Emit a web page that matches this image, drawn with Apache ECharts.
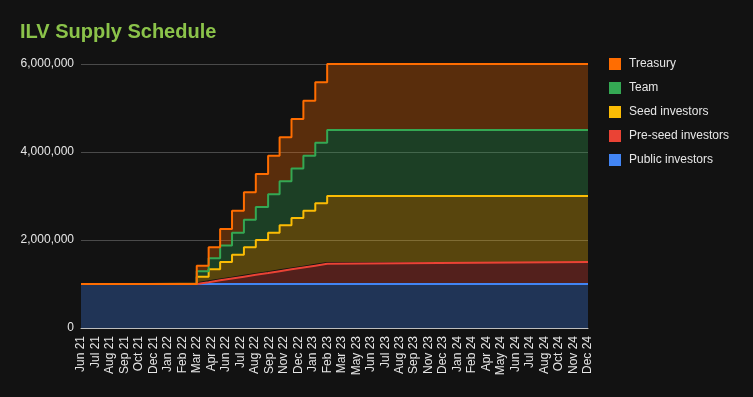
<!DOCTYPE html>
<html>
<head>
<meta charset="utf-8">
<script src="https://cdn.jsdelivr.net/npm/echarts@6/dist/echarts.min.js"></script>
<style>
  html, body { margin: 0; padding: 0; background: #121212; }
  #chart { width: 753px; height: 397px; }
</style>
</head>
<body>
<div id="chart"></div>
<script>
const axisStart = '2021-06-01';
const axisEnd = '2024-12-01';
const tickLabels = ['Jun 21', 'Jul 21', 'Aug 21', 'Sep 21', 'Oct 21', 'Dec 21', 'Jan 22', 'Feb 22', 'Mar 22',
  'Apr 22', 'Jun 22', 'Jul 22', 'Aug 22', 'Sep 22', 'Nov 22', 'Dec 22', 'Jan 23', 'Feb 23', 'Mar 23',
  'May 23', 'Jun 23', 'Jul 23', 'Aug 23', 'Sep 23', 'Nov 23', 'Dec 23', 'Jan 24', 'Feb 24', 'Apr 24',
  'May 24', 'Jun 24', 'Jul 24', 'Aug 24', 'Oct 24', 'Nov 24', 'Dec 24'];

// start, monthly unlocks, end
const dates = ['2021-06-01', '2022-03-20', '2022-04-19', '2022-05-18', '2022-06-17', '2022-07-17', '2022-08-16',
  '2022-09-16', '2022-10-15', '2022-11-14', '2022-12-14', '2023-01-13', '2023-02-12', '2024-12-01'];

const publicInvestors = [1000000, 1000000, 1000000, 1000000, 1000000, 1000000, 1000000, 1000000, 1000000, 1000000, 1000000, 1000000, 1000000, 1000000];
const preSeedInvestors = [0, 41667, 83333, 125000, 166667, 208333, 250000, 291667, 333333, 375000, 416667, 458333, 500000, 500000];
const seedInvestors = [0, 125000, 250000, 375000, 500000, 625000, 750000, 875000, 1000000, 1125000, 1250000, 1375000, 1500000, 1500000];
const team = [0, 125000, 250000, 375000, 500000, 625000, 750000, 875000, 1000000, 1125000, 1250000, 1375000, 1500000, 1500000];
const treasury = [0, 125000, 250000, 375000, 500000, 625000, 750000, 875000, 1000000, 1125000, 1250000, 1375000, 1500000, 1500000];

const legendOrder = ['Treasury', 'Team', 'Seed investors', 'Pre-seed investors', 'Public investors'];

const font = 'Liberation Sans, Arial, sans-serif';
const textColor = '#e6e6e6';

const chart = echarts.init(document.getElementById('chart'));

function makeSeries(name, values, color) {
  return {
    name: name,
    type: 'line',
    stack: 'supply',
    step: 'end',
    showSymbol: false,
    xAxisIndex: 0,
    data: dates.map((d, i) => [d, values[i]]),
    itemStyle: { color: color },
    lineStyle: { color: color, width: 2 },
    areaStyle: { color: color, opacity: 0.3 },
  };
}

chart.setOption({
  backgroundColor: '#121212',
  animation: false,
  textStyle: { fontFamily: font },
  title: {
    text: 'ILV Supply Schedule',
    left: 20,
    top: 22,
    padding: 0,
    textStyle: { color: '#8bc34a', fontSize: 20, fontWeight: 'bold', fontFamily: font },
  },
  legend: {
    data: legendOrder,
    orient: 'vertical',
    left: 609,
    top: 58,
    padding: 0,
    icon: 'rect',
    itemWidth: 12,
    itemHeight: 12,
    itemGap: 12,
    textStyle: { color: textColor, fontSize: 12, fontFamily: font, padding: [0, 0, 0, 3] },
  },
  grid: { left: 81, right: 165, top: 64, bottom: 69, containLabel: false },
  xAxis: [
    {
      // time scale the data sits on
      type: 'time',
      min: axisStart,
      max: axisEnd,
      show: false,
    },
    {
      // evenly spaced date labels spanning the same range
      type: 'category',
      data: tickLabels,
      boundaryGap: false,
      position: 'bottom',
      axisLine: { show: true, lineStyle: { color: '#bdbdbd', width: 1 } },
      axisTick: { show: false },
      splitLine: { show: false },
      axisLabel: {
        interval: 0,
        rotate: 90,
        margin: 8,
        color: textColor,
        fontSize: 12,
        fontFamily: font,
      },
    },
  ],
  yAxis: {
    type: 'value',
    min: 0,
    max: 6000000,
    interval: 2000000,
    axisLine: { show: false },
    axisTick: { show: false },
    splitLine: { lineStyle: { color: '#4a4a4a', width: 1 } },
    axisLabel: {
      margin: 7,
      color: textColor,
      fontSize: 12,
      fontFamily: font,
      formatter: v => v.toLocaleString('en-US'),
    },
  },
  series: [
    makeSeries('Public investors', publicInvestors, '#4285f4'),
    makeSeries('Pre-seed investors', preSeedInvestors, '#ea4335'),
    makeSeries('Seed investors', seedInvestors, '#fbbc04'),
    makeSeries('Team', team, '#34a853'),
    makeSeries('Treasury', treasury, '#ff6d01'),
  ],
});
</script>
</body>
</html>
